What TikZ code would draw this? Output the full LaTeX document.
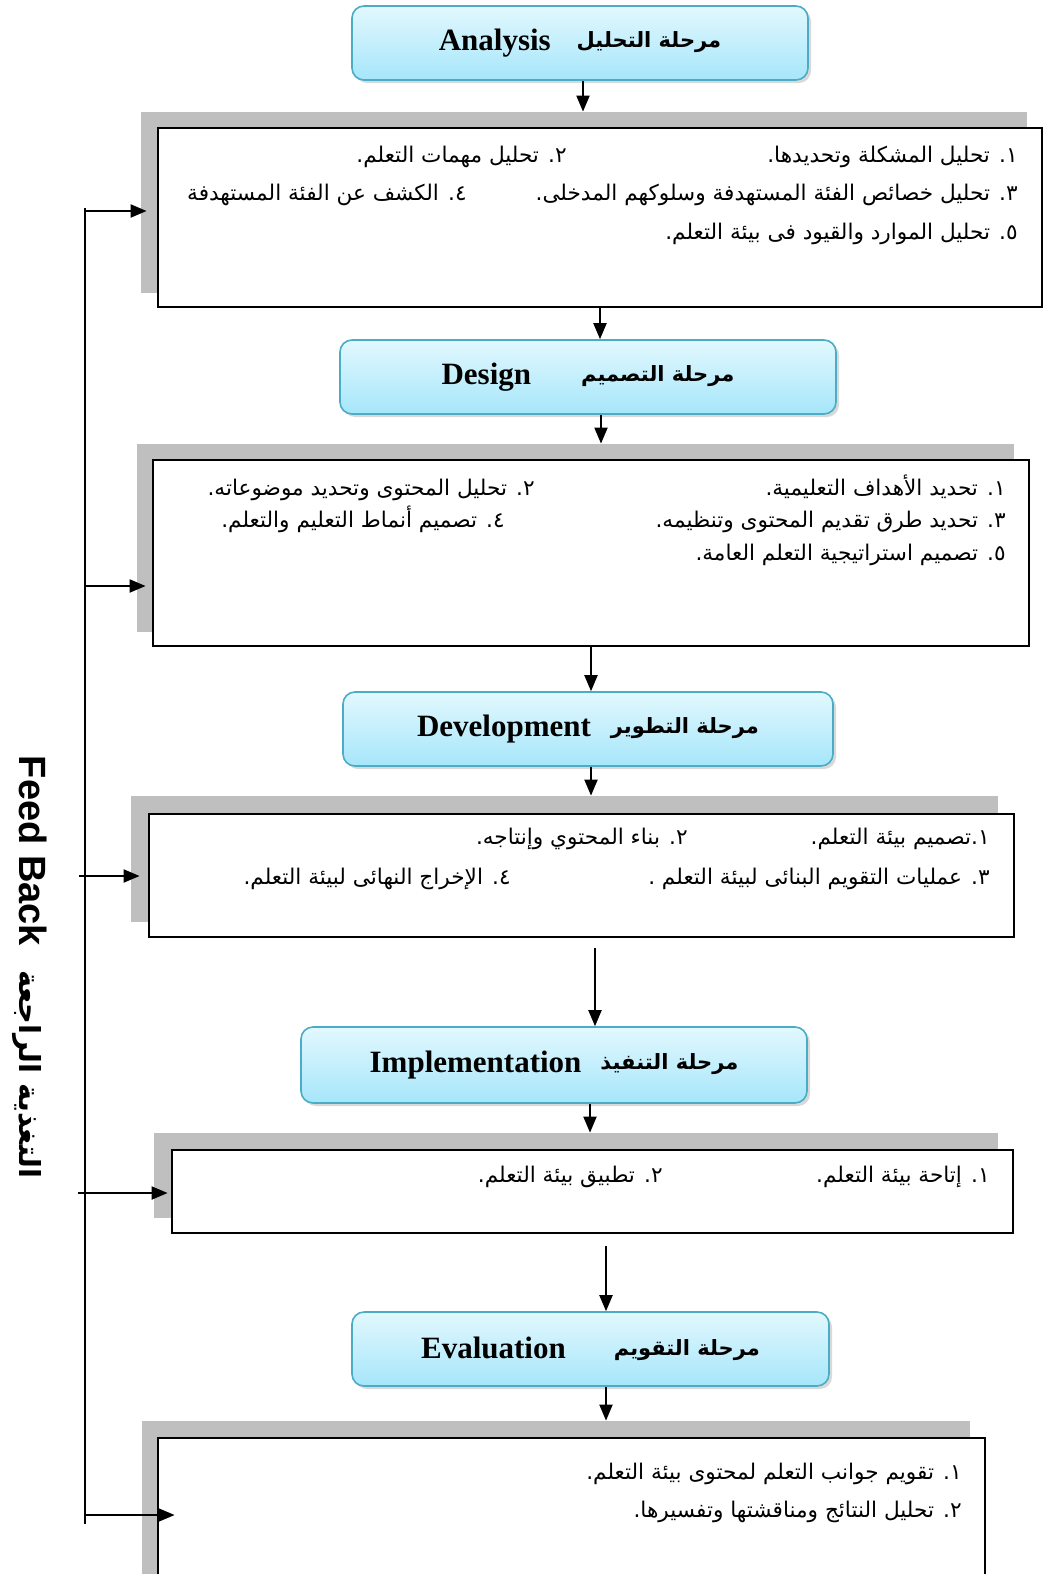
\documentclass[tikz,border=0pt]{standalone}
\usepackage{fontspec}
\setmainfont{Liberation Serif}
\newfontfamily\arabicfont[Script=Arabic]{DejaVu Sans}
\newfontfamily\labelfont{Liberation Sans}
\TeXXeTstate=1
\usetikzlibrary{arrows.meta,shadows}
\definecolor{phasetop}{HTML}{E2F8FE}
\definecolor{phasebottom}{HTML}{A6E6FA}
\definecolor{phaseborder}{HTML}{4BACC6}
\definecolor{shadowgray}{HTML}{BFBFBF}
\newcommand\artext[1]{{\arabicfont\beginR #1\endR}}
\newcommand\artitle[1]{\raisebox{1.5pt}{\arabicfont\fontsize{10.5}{13}\selectfont\beginR #1\endR}}

\begin{document}
\begin{tikzpicture}[x=0.5pt,y=-0.5pt,
  phase node/.style={rectangle,rounded corners=6pt,draw=phaseborder,line width=0.8pt,top color=phasetop,bottom color=phasebottom,minimum height=37pt,font=\bfseries\fontsize{15.5}{18}\selectfont,drop shadow={shadow xshift=1.5pt,shadow yshift=-1.5pt,opacity=0.3}},
  back box/.style={rectangle,fill=shadowgray,inner sep=0pt},
  item box/.style={rectangle,draw,fill=white,line width=1pt,inner sep=0pt},
  item text/.style={anchor=base east,inner sep=0pt,font=\fontsize{10.8}{13}\selectfont},
  arr/.style={-{Triangle[length=8pt,width=6.5pt]},line width=1pt}]
  \clip (0,0) rectangle (1051,1574);

  % phases
  \node[phase node,minimum width=228pt] (p1) at (580,43) {Analysis\hspace{13pt}\artitle{مرحلة التحليل}};
  \node[phase node,minimum width=248pt] (p2) at (588,377) {Design\hspace{25pt}\artitle{مرحلة التصميم}};
  \node[phase node,minimum width=245pt] (p3) at (588,729) {Development\hspace{10pt}\artitle{مرحلة التطوير}};
  \node[phase node,minimum width=253pt,minimum height=38pt] (p4) at (554,1065) {Implementation\hspace{9.5pt}\artitle{مرحلة التنفيذ}};
  \node[phase node,minimum width=238.5pt] (p5) at (590.5,1349) {Evaluation\hspace{24pt}\artitle{مرحلة التقويم}};

  % boxes
  \node[back box,minimum width=443pt,minimum height=90.5pt] (g1) at (584,202.5) {};
  \node[item box,minimum width=442pt,minimum height=89.5pt] (w1) at (600,217.5) {};
  \node[back box,minimum width=438.5pt,minimum height=94pt] (g2) at (575.5,538) {};
  \node[item box,minimum width=438pt,minimum height=93pt] (w2) at (591,553) {};
  \node[back box,minimum width=433.5pt,minimum height=63pt] (g3) at (564.5,859) {};
  \node[item box,minimum width=432.5pt,minimum height=61.5pt] (w3) at (581.5,875.5) {};
  \node[back box,minimum width=422pt,minimum height=42.5pt] (g4) at (576,1175.5) {};
  \node[item box,minimum width=420.5pt,minimum height=41.5pt] (w4) at (592.5,1191.5) {};
  \node[back box,minimum width=414pt,minimum height=89.5pt] (g5) at (556,1510.5) {};
  \node[item box,minimum width=413.5pt,minimum height=81pt] (w5) at (571.5,1519) {};

  % items
  \node[item text] (t11) at (1018,162) {\artext{١. تحليل المشكلة وتحديدها.}};
  \node[item text] (t12) at (567,162) {\artext{٢. تحليل مهمات التعلم.}};
  \node[item text] (t13) at (1018,200) {\artext{٣. تحليل خصائص الفئة المستهدفة وسلوكهم المدخلى.}};
  \node[item text] (t14) at (467,200) {\artext{٤. الكشف عن الفئة المستهدفة}};
  \node[item text] (t15) at (1018,239) {\artext{٥. تحليل الموارد والقيود فى بيئة التعلم.}};

  \node[item text] (t21) at (1006,495) {\artext{١. تحديد الأهداف التعليمية.}};
  \node[item text] (t22) at (535,495) {\artext{٢. تحليل المحتوى وتحديد موضوعاته.}};
  \node[item text] (t23) at (1006,527) {\artext{٣. تحديد طرق تقديم المحتوى وتنظيمه.}};
  \node[item text] (t24) at (505,527) {\artext{٤. تصميم أنماط التعليم والتعلم.}};
  \node[item text] (t25) at (1006,560) {\artext{٥. تصميم استراتيجية التعلم العامة.}};

  \node[item text] (t31) at (990,844) {\artext{١.تصميم بيئة التعلم.}};
  \node[item text] (t32) at (688,844) {\artext{٢. بناء المحتوي وإنتاجه.}};
  \node[item text] (t33) at (990,884) {\artext{٣. عمليات التقويم البنائى لبيئة التعلم .}};
  \node[item text] (t34) at (511,884) {\artext{٤. الإخراج النهائى لبيئة التعلم.}};

  \node[item text] (t41) at (990,1182) {\artext{١. إتاحة بيئة التعلم.}};
  \node[item text] (t42) at (663,1182) {\artext{٢. تطبيق بيئة التعلم.}};

  \node[item text] (t51) at (962,1479) {\artext{١. تقويم جوانب التعلم لمحتوى بيئة التعلم.}};
  \node[item text] (t52) at (962,1517) {\artext{٢. تحليل النتائج ومناقشتها وتفسيرها.}};

  % flow
  \draw[arr] (p1.south -| 583,0) -- (g1.north -| 583,0);
  \draw[arr] (w1.south -| 600,0) -- (p2.north -| 600,0);
  \draw[arr] (p2.south -| 601,0) -- (g2.north -| 601,0);
  \draw[arr] (w2.south -| 591,0) -- (p3.north -| 591,0);
  \draw[arr] (p3.south -| 591,0) -- (g3.north -| 591,0);
  \draw[arr] ([yshift=-5pt]w3.south -| 595,0) -- (p4.north -| 595,0);
  \draw[arr] (p4.south -| 590,0) -- (g4.north -| 590,0);
  \draw[arr] ([yshift=-6pt]w4.south -| 606,0) -- (p5.north -| 606,0);
  \draw[arr] (p5.south -| 606,0) -- (g5.north -| 606,0);

  % feed back
  \node[rotate=-90,font=\bfseries] (fb) at (30,967) {{\labelfont\fontsize{19}{22}\selectfont Feed Back}\hspace{12pt}\artext{\fontsize{14.5}{17}\selectfont التغذية الراجعة}};
  \coordinate (fbtop) at (85,208);
  \coordinate (fbbot) at (85,1524);
  \draw[line width=1pt] (fbtop) -- (fbbot);
  \coordinate (f1) at (85,211);
  \coordinate (f2) at (85,586);
  \coordinate (f3) at (79,876);
  \coordinate (f4) at (78,1193);
  \coordinate (f5) at (85,1515);
  \draw[arr,shorten >=-3pt] (f1) -- (f1 -| g1.west);
  \draw[arr,shorten >=-4.5pt] (f2) -- (f2 -| g2.west);
  \draw[arr,shorten >=-4.5pt] (f3) -- (f3 -| g3.west);
  \draw[arr,shorten >=-7pt] (f4) -- (f4 -| g4.west);
  \draw[arr,shorten >=-16.5pt] (f5) -- (f5 -| g5.west);
\end{tikzpicture}
\end{document}
